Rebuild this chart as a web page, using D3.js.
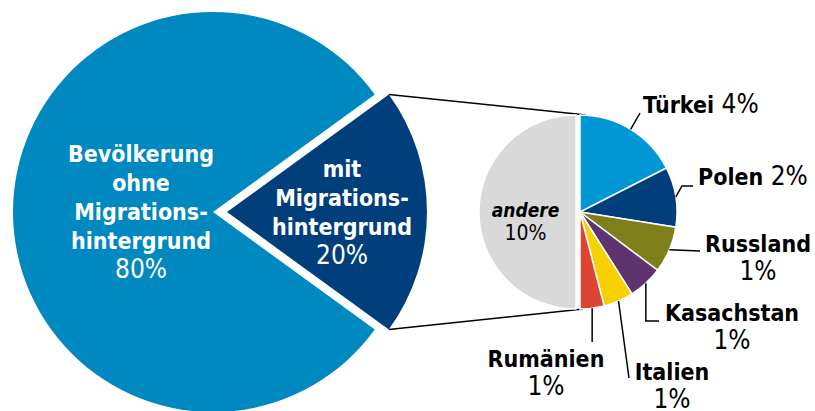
<!DOCTYPE html>
<html>
<head>
<meta charset="utf-8">
<script src="https://cdn.jsdelivr.net/npm/d3@7"></script>
<style>
body { margin: 0; background: #fff; }
text { font-family: "DejaVu Sans Condensed", "DejaVu Sans", sans-serif; font-stretch: condensed; }
</style>
</head>
<body>
<div id="chart"></div>
<script>
// main pie: share of population
var mainNames = ["mit|Migrations-|hintergrund", "Bevölkerung|ohne|Migrations-|hintergrund"];
var mainValues = [20, 80];
var mainPercent = ["20%", "80%"];
var mainColors = ["#003f7b", "#0088c0"];

// second pie: breakdown of "mit Migrationshintergrund"
var subNames = ["Türkei", "Polen", "Russland", "Kasachstan", "Italien", "Rumänien", "andere"];
var subValues = [3.5, 2.0, 1.55, 1.15, 1.0, 0.8, 10.0];
var subPercent = ["4%", "2%", "1%", "1%", "1%", "1%", "10%"];
var subColors = ["#0098d4", "#003f7b", "#7f7f1a", "#5e3370", "#f7d000", "#dc4433", "#d9d9d9"];

var W = 815, H = 411;
var cx = 213, cy = 212, r = 200, explode = 14;
var cx2 = 580, cy2 = 212, r2 = 97, explodeOther = 4;

var svg = d3.select("#chart")
    .append("svg")
    .attr("width", W)
    .attr("height", H);

// ---- main pie
var pie1 = d3.pie().sort(null)
    .startAngle(0.3 * Math.PI)
    .endAngle(2.3 * Math.PI);
var arc1 = d3.arc().innerRadius(0).outerRadius(r);
var arcs1 = pie1(mainValues);

function offset(a, dist) {
    var m = (a.startAngle + a.endAngle) / 2;
    return [Math.sin(m) * dist, -Math.cos(m) * dist];
}

var g1 = svg.append("g").attr("transform", "translate(" + cx + "," + cy + ")");
g1.selectAll("path")
    .data(arcs1)
    .enter()
    .append("path")
    .attr("d", arc1)
    .attr("transform", function (d, i) {
        var o = offset(d, i == 0 ? explode : 0);
        return "translate(" + o[0] + "," + o[1] + ")";
    })
    .style("fill", function (d, i) { return mainColors[i]; });

// labels in main pie
var labelRadius = [0.575, 0.36];
arcs1.forEach(function (d, i) {
    var m = (d.startAngle + d.endAngle) / 2;
    var ex = i == 0 ? explode : 0;
    var rr = r * labelRadius[i] + ex;
    var x = Math.sin(m) * rr, y = -Math.cos(m) * rr;
    var lines = mainNames[i].split("|");
    var n = lines.length + 1;
    var lh = 29;
    var y0 = y - (n - 1) * lh / 2 + 8;
    var t = g1.append("text")
        .attr("text-anchor", "middle")
        .style("fill", "#fff")
        .style("font-size", "23px");
    lines.forEach(function (l, k) {
        t.append("tspan").attr("x", x).attr("y", y0 + k * lh)
            .style("font-weight", "bold").text(l);
    });
    t.append("tspan").attr("x", x).attr("y", y0 + lines.length * lh)
        .style("font-size", "26px").text(mainPercent[i]);
});

// ---- connector lines between the pies
var mit = arcs1[0];
var corner1 = [cx + explode + Math.sin(mit.startAngle) * r, cy - Math.cos(mit.startAngle) * r];
var corner2 = [cx + explode + Math.sin(mit.endAngle) * r, cy - Math.cos(mit.endAngle) * r];
svg.append("line")
    .attr("x1", corner1[0]).attr("y1", corner1[1])
    .attr("x2", cx2 + 6).attr("y2", cy2 - r2)
    .style("stroke", "#000").style("stroke-width", 1.5);
svg.append("line")
    .attr("x1", corner2[0]).attr("y1", corner2[1])
    .attr("x2", cx2 + 3).attr("y2", cy2 + r2)
    .style("stroke", "#000").style("stroke-width", 1.5);

// ---- second pie
var pie2 = d3.pie().sort(null);
var arc2 = d3.arc().innerRadius(0).outerRadius(r2);
var arcs2 = pie2(subValues);
var g2 = svg.append("g").attr("transform", "translate(" + cx2 + "," + cy2 + ")");
g2.selectAll("path")
    .data(arcs2)
    .enter()
    .append("path")
    .attr("d", arc2)
    .attr("transform", function (d, i) {
        var o = offset(d, i == subNames.length - 1 ? explodeOther : 0);
        return "translate(" + o[0] + "," + o[1] + ")";
    })
    .style("fill", function (d, i) { return subColors[i]; })
    .style("stroke", "#fff")
    .style("stroke-width", 1.5);

// "andere" label inside
var other = arcs2[arcs2.length - 1];
var om = (other.startAngle + other.endAngle) / 2;
var ox = Math.sin(om) * (r2 * 0.52 + explodeOther);
var ot = g2.append("text").attr("text-anchor", "middle").style("fill", "#000");
ot.append("tspan").attr("x", ox).attr("y", 5).style("font-size", "19px")
    .style("font-weight", "bold").style("font-style", "italic").text(subNames[6]);
ot.append("tspan").attr("x", ox).attr("y", 28).style("font-size", "21px").text(subPercent[6]);

// outside labels: leader bends and text anchors
var layout = {
    "Türkei":     { pts: [[640, 113]], x: 643, y: 113, anchor: "start", inline: true },
    "Polen":      { pts: [[682, 186], [693, 186]], x: 698, y: 185, anchor: "start", inline: true },
    "Russland":   { pts: [[700, 251]], x: 758, y: 252, anchor: "middle" },
    "Kasachstan": { pts: ["v321", [659, 321]], x: 732, y: 321, anchor: "middle" },
    "Italien":    { pts: [[629, 378]], x: 672, y: 380, anchor: "middle" },
    "Rumänien":   { pts: ["v342"], x: 546, y: 367, anchor: "middle" }
};

var line = d3.line();
arcs2.forEach(function (d, i) {
    var name = subNames[i];
    var L = layout[name];
    if (!L) return;
    var m = (d.startAngle + d.endAngle) / 2;
    var start = [cx2 + Math.sin(m) * r2, cy2 - Math.cos(m) * r2];
    var pts = [start];
    L.pts.forEach(function (p) {
        if (typeof p == "string") pts.push([start[0], +p.slice(1)]);
        else pts.push(p);
    });
    svg.append("path")
        .attr("d", line(pts))
        .style("fill", "none")
        .style("stroke", "#000")
        .style("stroke-width", 1.5);

    var t = svg.append("text")
        .attr("text-anchor", L.anchor)
        .style("font-size", "23px")
        .style("fill", "#000");
    if (L.inline) {
        t.attr("x", L.x).attr("y", L.y);
        t.append("tspan").style("font-weight", "bold").text(name);
        t.append("tspan").style("font-size", "26px").text(" " + subPercent[i]);
    } else {
        t.append("tspan").attr("x", L.x).attr("y", L.y).style("font-weight", "bold").text(name);
        t.append("tspan").attr("x", L.x).attr("y", L.y + 28).style("font-size", "26px").text(subPercent[i]);
    }
});
</script>
</body>
</html>
